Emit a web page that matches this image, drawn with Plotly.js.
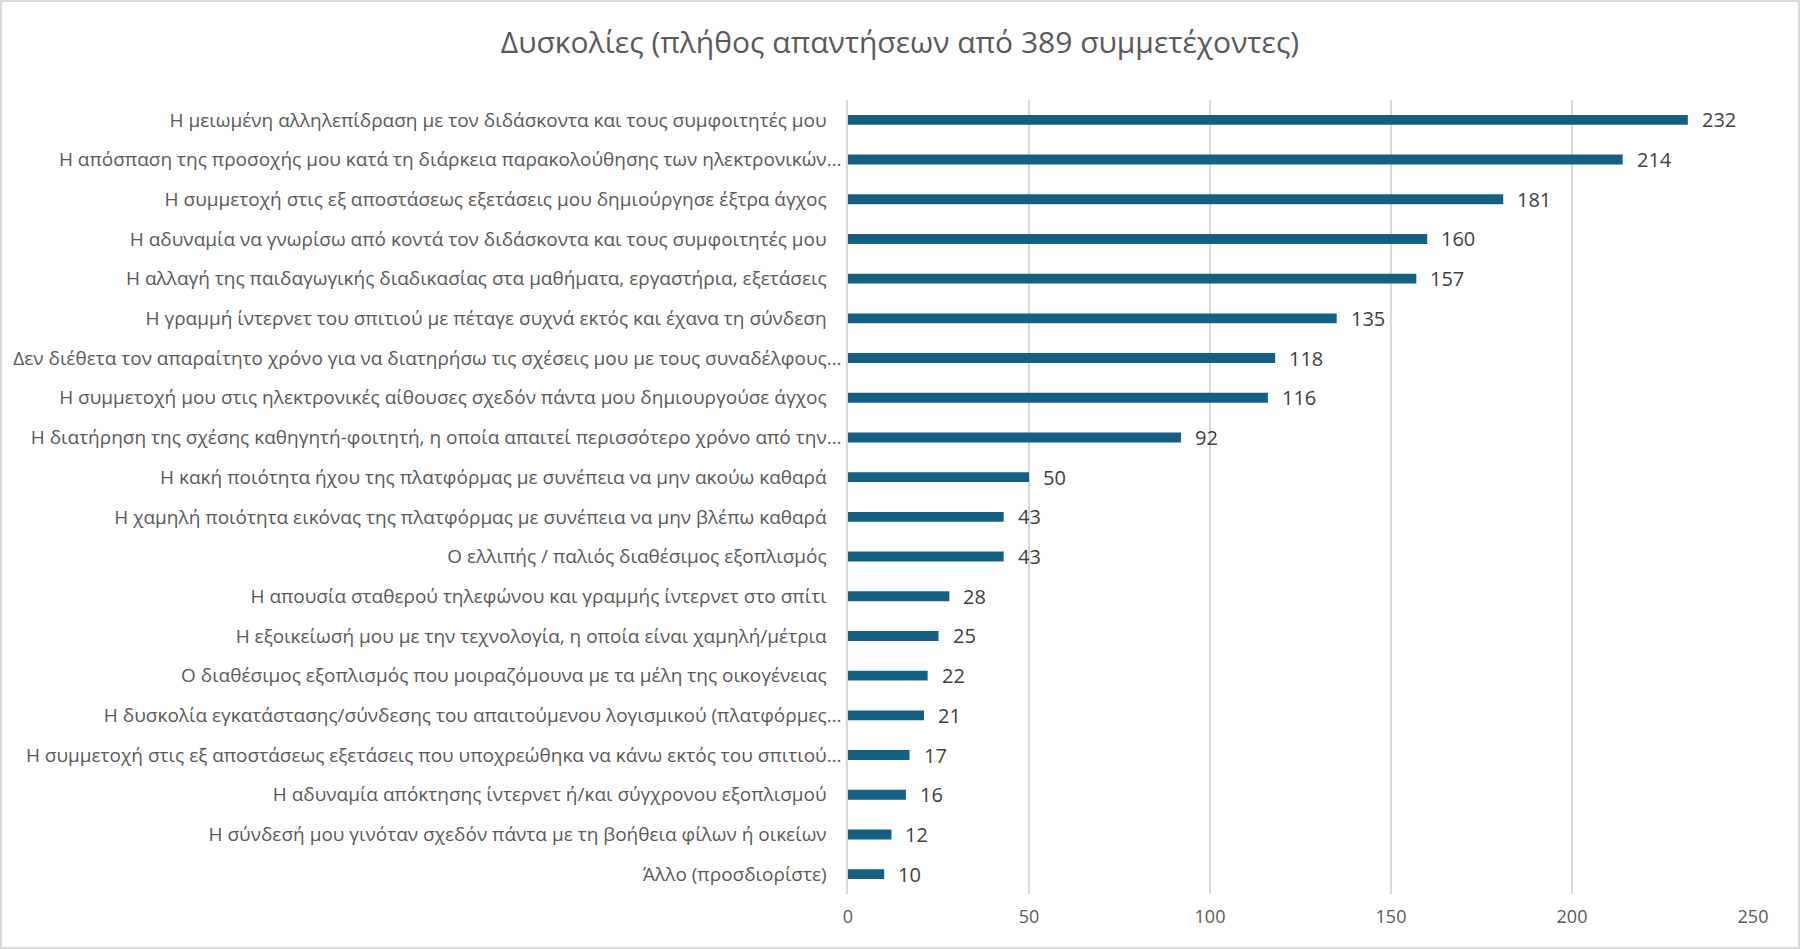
<!DOCTYPE html>
<html>
<head>
<meta charset="utf-8">
<script src="https://cdn.plot.ly/plotly-3.0.1.min.js"></script>
<style>
  body { margin: 0; background: #fff; }
  #chart { width: 1800px; height: 949px; }
  #frame { position: absolute; left: 0; top: 0; width: 1796px; height: 945px;
           border: 2px solid #d9d9d9; pointer-events: none; }
</style>
</head>
<body>
<div id="chart"></div>
<div id="frame"></div>
<script>
// categories (top to bottom as shown in the chart)
var labels = [
  'Η μειωμένη αλληλεπίδραση με τον διδάσκοντα και τους συμφοιτητές μου',
  'Η απόσπαση της προσοχής μου κατά τη διάρκεια παρακολούθησης των ηλεκτρονικών…',
  'Η συμμετοχή στις εξ αποστάσεως εξετάσεις μου δημιούργησε έξτρα άγχος',
  'Η αδυναμία να γνωρίσω από κοντά τον διδάσκοντα και τους συμφοιτητές μου',
  'Η αλλαγή της παιδαγωγικής διαδικασίας στα μαθήματα, εργαστήρια, εξετάσεις',
  'Η γραμμή ίντερνετ του σπιτιού με πέταγε συχνά εκτός και έχανα τη σύνδεση',
  'Δεν διέθετα τον απαραίτητο χρόνο για να διατηρήσω τις σχέσεις μου με τους συναδέλφους…',
  'Η συμμετοχή μου στις ηλεκτρονικές αίθουσες σχεδόν πάντα μου δημιουργούσε άγχος',
  'Η διατήρηση της σχέσης καθηγητή-φοιτητή, η οποία απαιτεί περισσότερο χρόνο από την…',
  'Η κακή ποιότητα ήχου της πλατφόρμας με συνέπεια να μην ακούω καθαρά',
  'Η χαμηλή ποιότητα εικόνας της πλατφόρμας με συνέπεια να μην βλέπω καθαρά',
  'Ο ελλιπής / παλιός διαθέσιμος εξοπλισμός',
  'Η απουσία σταθερού τηλεφώνου και γραμμής ίντερνετ στο σπίτι',
  'Η εξοικείωσή μου με την τεχνολογία, η οποία είναι χαμηλή/μέτρια',
  'Ο διαθέσιμος εξοπλισμός που μοιραζόμουνα με τα μέλη της οικογένειας',
  'Η δυσκολία εγκατάστασης/σύνδεσης του απαιτούμενου λογισμικού (πλατφόρμες…',
  'Η συμμετοχή στις εξ αποστάσεως εξετάσεις που υποχρεώθηκα να κάνω εκτός του σπιτιού…',
  'Η αδυναμία απόκτησης ίντερνετ ή/και σύγχρονου εξοπλισμού',
  'Η σύνδεσή μου γινόταν σχεδόν πάντα με τη βοήθεια φίλων ή οικείων',
  'Άλλο (προσδιορίστε)'
];
// number of answers
var counts = [232, 214, 181, 160, 157, 135, 118, 116, 92, 50, 43, 43, 28, 25, 22, 21, 17, 16, 12, 10];
var xTicks = [0, 50, 100, 150, 200, 250];

var font = 'Open Sans, Liberation Sans, sans-serif';
var grey = '#595959';

// the full labels keep a trailing blank in the original sheet,
// the cut ones (ending in …) do not
var tickText = labels.map(function (l) {
  return l.slice(-1) === '…' ? l : l + '\u00a0\u00a0\u00a0';
});

var bars = {
  type: 'bar',
  orientation: 'h',
  y: labels,
  x: counts,
  width: 0.25,
  marker: { color: '#156082' },
  hoverinfo: 'x+y',
  cliponaxis: false
};

// value labels to the right of each bar
var annotationContent = [];
for (var i = 0; i < counts.length; i++) {
  annotationContent.push({
    x: counts[i],
    y: labels[i],
    text: String(counts[i]),
    xanchor: 'left',
    yanchor: 'middle',
    xshift: 12,
    showarrow: false,
    font: { family: font, size: 20, color: '#404040' }
  });
}

var layout = {
  width: 1800,
  height: 949,
  paper_bgcolor: '#fff',
  plot_bgcolor: '#fff',
  font: { family: font, color: grey },
  title: {
    text: 'Δυσκολίες (πλήθος απαντήσεων από 389 συμμετέχοντες)',
    font: { family: font, size: 30, color: grey },
    x: 0.5,
    xanchor: 'center',
    y: 0.955,
    yanchor: 'middle'
  },
  margin: { l: 848, r: 47, t: 100, b: 55 },
  bargap: 0.75,
  showlegend: false,
  annotations: annotationContent,
  xaxis: {
    range: [0, 250],
    tickvals: xTicks,
    showgrid: true,
    gridcolor: '#d9d9d9',
    gridwidth: 1.5,
    zeroline: false,
    showline: false,
    ticks: '',
    ticklabelstandoff: 10,
    tickfont: { family: font, size: 18, color: grey }
  },
  yaxis: {
    type: 'category',
    autorange: 'reversed',
    tickvals: labels,
    ticktext: tickText,
    showgrid: false,
    zeroline: false,
    showline: true,
    linecolor: '#d9d9d9',
    linewidth: 1.5,
    ticks: '',
    ticklabelstandoff: 1,
    tickfont: { family: font, size: 19, color: grey }
  }
};

Plotly.newPlot('chart', [bars], layout, { displayModeBar: false });
</script>
</body>
</html>
